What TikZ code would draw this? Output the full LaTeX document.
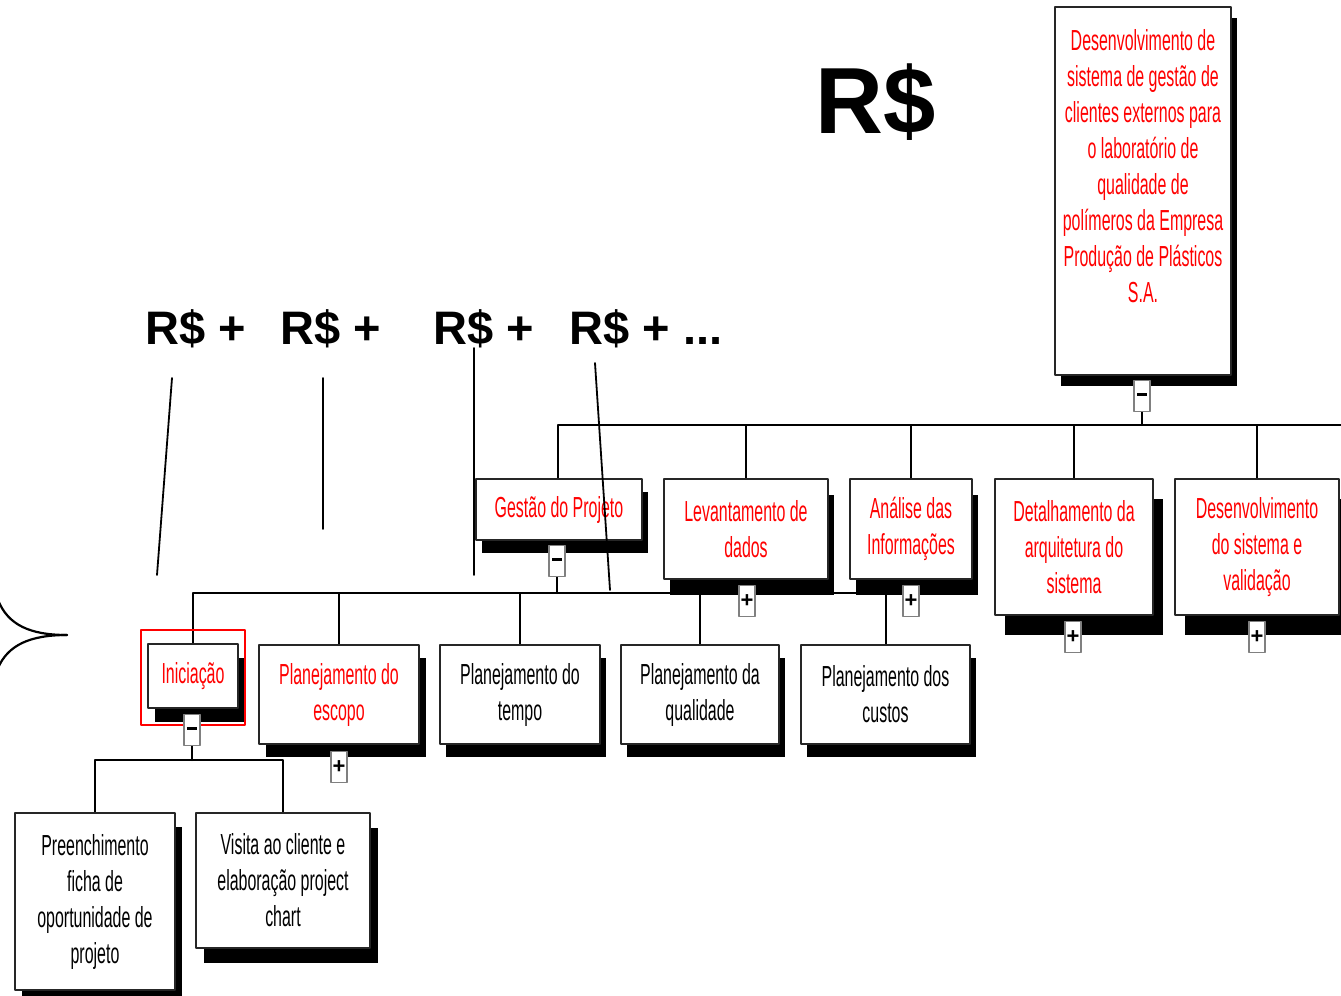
\documentclass[tikz,border=0pt]{standalone}
\usepackage{fontspec}
\setmainfont{Liberation Sans}
\newfontfamily\wbsfont[FakeStretch=0.55]{Liberation Sans}
\usetikzlibrary{shadows}
\begin{document}
\begin{tikzpicture}[x=0.5pt,y=-0.5pt,line join=round,line cap=round,
	wbs/.style={draw=black!85,line width=1.2pt,fill=white,inner sep=0pt,align=center,
		font=\wbsfont\fontsize{14.5}{18}\selectfont},
	boxsize/.style 2 args={minimum width=#1*0.5pt,minimum height=#2*0.5pt},
	boxshade/.style 2 args={general shadow={fill=black,shadow xshift=#1,shadow yshift=-#2}},
	btn/.style={draw=gray,line width=0.8pt,fill=white,inner sep=0pt,
		minimum width=8pt,minimum height=15.5pt,font=\fontsize{11}{11}\bfseries},
	tree/.style={line width=1pt,black},
	note/.style={line width=0.9pt,black},
	sum/.style={anchor=base west,inner sep=0pt,font=\fontsize{23.5}{28}\bfseries}]
			\clip (0,0) rectangle (1341,996);
			\fill[white] (0,0) rectangle (1341,996);
			% costs
			\node[sum,font=\fontsize{47}{50}\bfseries] (total) at (815,133) {R\$};
			\node[sum] (r1) at (145,344) {R\$ +};
			\node[sum] (r2) at (280,344) {R\$ +};
			\node[sum] (r3) at (433,344) {R\$ +};
			\node[sum] (r4) at (569,344) {R\$ + ...};
			% bus coordinates
			\coordinate (bus1-end) at (1345,425);
			\coordinate (bus2) at (557,593);
			\coordinate (bus3) at (192,760);
			% tree lines
			\draw[tree] (1142,411)--(1142,425);
			\draw[tree] (558,479) |- (bus1-end);
			\draw[tree] (746,479)--(746,425);
			\draw[tree] (911,479)--(911,425);
			\draw[tree] (1074,479)--(1074,425);
			\draw[tree] (1257,479)--(1257,425);
			\draw[tree] (557,577)--(bus2);
			\draw[tree] (193,644) |- (bus2) -| (885.5,644);
			\draw[tree] (339,645)--(339,593);
			\draw[tree] (520,645)--(520,593);
			\draw[tree] (700,645)--(700,593);
			\draw[tree] (192,746)--(bus3);
			\draw[tree] (95,813) |- (bus3) -| (283,813);
			% level 0
			\node[wbs,boxsize={176}{368},boxshade={3pt}{5.5pt},text=red] (project) at (1143,191)
				{\parbox[c][162pt][t]{86pt}{\centering Desenvolvimento de\\sistema de gestão de\\clientes externos para\\o laboratório de\\qualidade de\\polímeros da Empresa\\Produção de Plásticos\\S.A.}};
			\node[btn] (project-btn) at (1142,396) {\rule[0.3ex]{5pt}{1.6pt}};
			% level 1
			\node[wbs,boxsize={166}{61},boxshade={3pt}{6.5pt},text=red] (gestao) at (559,509.5) {Gestão do Projeto};
			\node[wbs,boxsize={164}{100},boxshade={3pt}{8pt},text=red] (levant) at (746,529) {Levantamento de\\dados};
			\node[wbs,boxsize={122}{100},boxshade={3pt}{8pt},text=red] (analise) at (911,529) {Análise das\\Informações};
			\node[wbs,boxsize={158}{136},boxshade={5pt}{10pt},text=red] (detal) at (1074,547) {Detalhamento da\\arquitetura do\\sistema};
			\node[wbs,boxsize={164}{136},boxshade={5pt}{10pt},text=red] (desenv) at (1257,547) {Desenvolvimento\\do sistema e\\validação};
			\node[btn] (gestao-btn) at (557,561) {\rule[0.3ex]{5pt}{1.6pt}};
			\node[btn] (levant-btn) at (747,601) {+};
			\node[btn] (analise-btn) at (911,601) {+};
			\node[btn] (detal-btn) at (1073,637) {+};
			\node[btn] (desenv-btn) at (1257,637) {+};
			% level 2
			\node[wbs,boxsize={90}{64},boxshade={3.5pt}{7pt},text=red] (inic) at (193,676) {Iniciação};
			\node[wbs,boxsize={160}{99},boxshade={3.5pt}{6.5pt},text=red] (escopo) at (339,694.5) {Planejamento do\\escopo};
			\node[wbs,boxsize={160}{99},boxshade={3pt}{6.5pt}] (tempo) at (520,694.5) {Planejamento do\\tempo};
			\node[wbs,boxsize={158}{99},boxshade={3pt}{6.5pt}] (qualid) at (700,694.5) {Planejamento da\\qualidade};
			\node[wbs,boxsize={169}{99},boxshade={3pt}{6.5pt}] (custos) at (885.5,694.5) {Planejamento dos\\custos};
			\draw[red,line width=1pt] (141,630) rectangle (245,725);
			\node[btn] (inic-btn) at (192,730) {\rule[0.3ex]{5pt}{1.6pt}};
			\node[btn] (escopo-btn) at (339,767) {+};
			% level 3
			\node[wbs,boxsize={160}{177},boxshade={3.5pt}{7pt}] (preench) at (95,901.5) {Preenchimento\\ficha de\\oportunidade de\\projeto};
			\node[wbs,boxsize={174}{135},boxshade={4pt}{7.5pt}] (visita) at (283,880.5) {Visita ao cliente e\\elaboração project\\chart};
			% pointers
			\coordinate (p1-a) at (172,378);
			\coordinate (p1-b) at (157,575);
			\coordinate (p2-a) at (323,378);
			\coordinate (p2-b) at (323,529);
			\coordinate (p3-a) at (474,348);
			\coordinate (p3-b) at (474,575);
			\coordinate (p4-a) at (595,363);
			\coordinate (p4-b) at (610,590);
			\draw[note] (p1-a)--(p1-b);
			\draw[note] (p2-a)--(p2-b);
			\draw[note] (p3-a)--(p3-b);
			\draw[note] (p4-a)--(p4-b);
			% brace tip
			\draw[line width=1.1pt] (-2,600) .. controls (8,625) and (30,635) .. (67,635);
			\draw[line width=1.1pt] (-2,668) .. controls (8,645) and (30,635) .. (67,635);
		\end{tikzpicture}
\end{document}
